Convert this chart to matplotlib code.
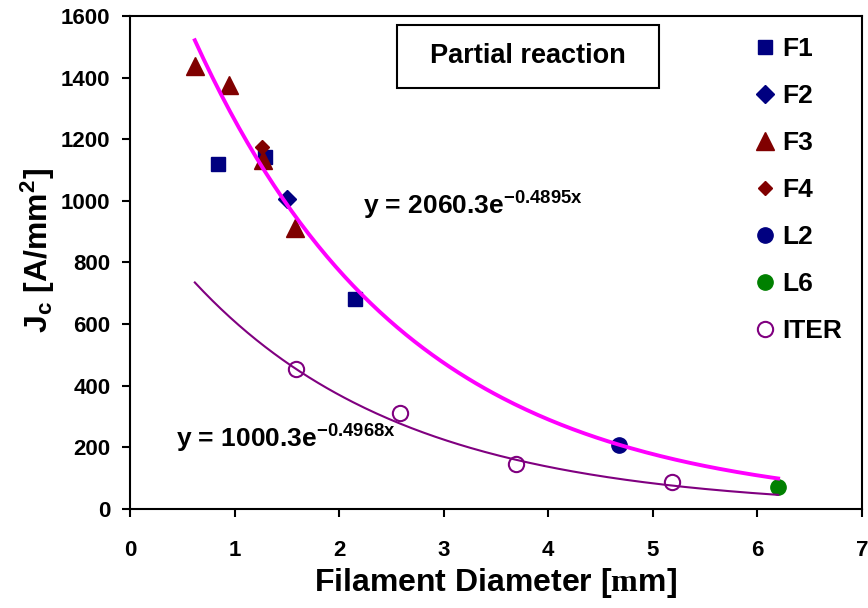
import numpy as np
import matplotlib
matplotlib.use('Agg')
import matplotlib.pyplot as plt
from matplotlib.patches import Rectangle

# data
f1_x = [0.84, 1.29, 2.15]
f1_y = [1120, 1143, 682]
f2_x = [1.50]
f2_y = [1006]
f3_x = [0.62, 0.95, 1.27, 1.58]
f3_y = [1438, 1377, 1133, 912]
f4_x = [1.26]
f4_y = [1175]
l2_x = [4.68]
l2_y = [207]
l6_x = [6.20]
l6_y = [71]
iter_x = [1.59, 2.58, 3.69, 5.18]
iter_y = [455, 313, 147, 88]

# exponential trend lines as printed on the chart
fit_full = (2060.3, -0.4895)
fit_iter = (1000.3, -0.4968)
fit_range = (0.62, 6.2)

plt.rcParams['font.family'] = ['Liberation Sans', 'DejaVu Sans']
plt.rcParams['font.weight'] = 'bold'
plt.rcParams['mathtext.fontset'] = 'custom'
plt.rcParams['mathtext.bf'] = 'Liberation Sans:bold'
plt.rcParams['mathtext.rm'] = 'Liberation Serif'
plt.rcParams['mathtext.it'] = 'Liberation Sans:bold'

fig = plt.figure(figsize=(8.68, 6.08), dpi=100)
ax = fig.add_axes([0.1498, 0.1628, 0.843, 0.811])

ax.plot(f1_x, f1_y, 's', color='#000080', markersize=9.5, linestyle='none', label='F1', zorder=3)
ax.plot(f2_x, f2_y, 'D', color='#000080', markersize=9, linestyle='none', label='F2', zorder=3)
ax.plot(f3_x, f3_y, '^', color='#800000', markersize=13, linestyle='none', label='F3', zorder=3)
ax.plot(f4_x, f4_y, 'D', color='#800000', markersize=7.5, linestyle='none', label='F4', zorder=3)
ax.plot(l2_x, l2_y, 'o', color='#000080', markersize=11, linestyle='none', label='L2', zorder=3)
ax.plot(l6_x, l6_y, 'o', color='#008000', markersize=11, linestyle='none', label='L6', zorder=3)
ax.plot(iter_x, iter_y, 'o', markerfacecolor='white', markeredgecolor='#800080',
        markeredgewidth=1.5, markersize=11, linestyle='none', label='ITER', zorder=3)

xx = np.linspace(fit_range[0], fit_range[1], 200)
ax.plot(xx, fit_full[0] * np.exp(fit_full[1] * xx), color='#FF00FF', linewidth=2.8, zorder=4)
ax.plot(xx, fit_iter[0] * np.exp(fit_iter[1] * xx), color='#800080', linewidth=1.5, zorder=4)

ax.text(2.23, 985, 'y = 2060.3' + r'$\mathbf{e^{-0.4895x}}$', fontsize=19, fontweight='bold', va='center')
ax.text(0.44, 226, 'y = 1000.3' + r'$\mathbf{e^{-0.4968x}}$', fontsize=19, fontweight='bold', va='center')

ax.add_patch(Rectangle((0.365, 0.854), 0.358, 0.128, transform=ax.transAxes,
                       fill=False, edgecolor='black', linewidth=1.5, zorder=5))
ax.text(0.544, 0.918, 'Partial reaction', transform=ax.transAxes, fontsize=19.5,
        fontweight='bold', ha='center', va='center')

ax.set_xlim(0, 7)
ax.set_ylim(0, 1600)
ax.set_xticks(range(0, 8))
ax.set_yticks(range(0, 1601, 200))
ax.tick_params(direction='out', length=6, width=1.5, labelsize=16)
ax.tick_params(axis='x', pad=16)
ax.tick_params(axis='y', pad=8)
for t in ax.get_xticklabels() + ax.get_yticklabels():
    t.set_fontweight('bold')
for s in ax.spines.values():
    s.set_linewidth(1.5)

ax.set_xlabel(r'Filament Diameter [$\mathrm{m}$m]', fontsize=23, fontweight='bold', labelpad=4)
ax.set_ylabel(r'$\mathbf{J_c\ [A/mm^2]}$', fontsize=23)
ax.yaxis.set_label_coords(-0.100, 0.525)

leg = ax.legend(loc='upper left', bbox_to_anchor=(0.836, 0.978), frameon=False,
                fontsize=19, labelspacing=0.87, handlelength=1.0, handletextpad=0.12,
                borderaxespad=0)
for t in leg.get_texts():
    t.set_fontweight('bold')

fig.savefig('out.png', dpi=100)
